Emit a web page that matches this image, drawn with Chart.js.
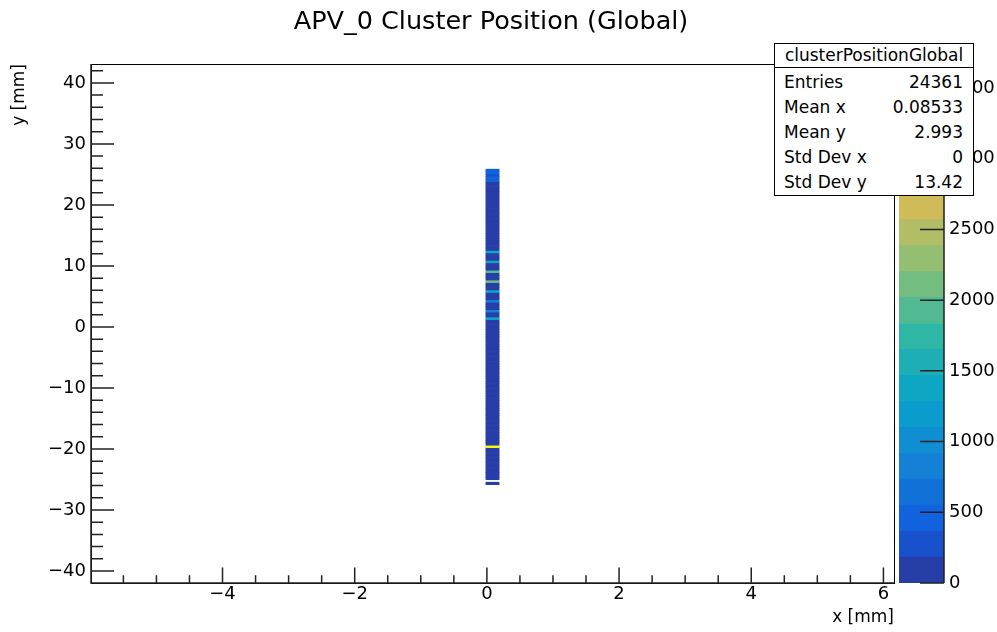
<!DOCTYPE html>
<html>
<head>
<meta charset="utf-8">
<script src="https://cdn.jsdelivr.net/npm/chart.js@4.4.1/dist/chart.umd.min.js"></script>
<style>
  html, body { margin: 0; padding: 0; background: #fff; }
  #wrap { position: relative; width: 997px; height: 632px; overflow: hidden; font-family: "DejaVu Sans", sans-serif; color: #000; }
  #plot { position: absolute; left: 0; top: 0; }
  #palette { position: absolute; left: 880px; top: 0; }
  #title { position: absolute; left: 0; width: 982px; top: 4px; text-align: center; font-size: 25.5px; line-height: 32px; }
  #stats { position: absolute; left: 774px; top: 43px; width: 200px; height: 153px; box-sizing: border-box; border: 1px solid #000; background: #fff; font-size: 17px; }
  #stats .hdr { position: absolute; left: 0; right: 0; top: 0; height: 23px; line-height: 23px; text-align: center; border-bottom: 1px solid #000; }
  #stats .row { position: absolute; left: 9px; right: 10px; height: 24px; line-height: 24px; }
  #stats .row .val { position: absolute; right: 0; top: 0; }
</style>
</head>
<body>
<div id="wrap">
  <canvas id="plot" width="997" height="632"></canvas>
  <canvas id="palette" width="117" height="632"></canvas>
  <div id="title">APV_0 Cluster Position (Global)</div>
  <div id="stats"><div class="hdr">clusterPositionGlobal</div></div>
</div>
<script>
// histogram binning (one x column, 128 strips along y)
const xBinEdges = [-0.015, 0.185];
const yFirstEdge = -25.85;
const yPitch = 0.404;

// counts per strip, bottom strip first
const stripCounts = [
  88, 0, 74, 69, 81, 63, 77, 58, 72, 66, 80, 61, 70, 75, 64, 3670,
  71, 62, 79, 57, 68, 73, 60, 76, 65, 59, 82, 67, 70, 63, 78, 61,
  66, 74, 58, 69, 80, 62, 71, 64, 77, 59, 68, 72, 61, 75, 66, 70,
  63, 79, 60, 67, 73, 65, 58, 76, 69, 62, 81, 64, 70, 57, 74, 68,
  71, 63, 78, 1350, 66, 72, 900, 64, 75, 69, 800, 61, 73, 67, 1400, 70,
  65, 77, 2150, 62, 74, 68, 1900, 71, 63, 79, 1300, 66, 72, 60, 1300, 75,
  67, 70, 62, 78, 64, 73, 69, 59, 76, 65, 71, 80, 63, 68, 74, 61,
  77, 66, 70, 62, 75, 69, 64, 81, 67, 72, 60, 390, 410, 300, 400, 420
];

const xRange = [-5.99, 6.16];
const yRange = [-41.97, 43.1];
const xTicks = [-4, -2, 0, 2, 4, 6];
const yTicks = [-40, -30, -20, -10, 0, 10, 20, 30, 40];
const xMinorStep = 0.5;
const yMinorStep = 2;

// colour axis
const zMax = 3670;
const zTicks = [0, 500, 1000, 1500, 2000, 2500, 3000, 3500];
const nContours = 20;

// stats box
const statsLabels = ['Entries', 'Mean x', 'Mean y', 'Std Dev x', 'Std Dev y'];
const statsValues = ['24361', '0.08533', '2.993', '0', '13.42'];

// ROOT kBird palette
const birdR = [0.2082, 0.0592, 0.0780, 0.0232, 0.1802, 0.5301, 0.8186, 0.9956, 0.9764];
const birdG = [0.1664, 0.3599, 0.5041, 0.6419, 0.7178, 0.7492, 0.7328, 0.7862, 0.9832];
const birdB = [0.5293, 0.8684, 0.8385, 0.7914, 0.6425, 0.4662, 0.3499, 0.1968, 0.0539];

function birdColor(t) {
    const p = Math.min(t, 1) * 8;
    const i = Math.min(Math.floor(p), 7);
    const f = p - i;
    const mix = arr => Math.round(255 * (arr[i] + (arr[i + 1] - arr[i]) * f));
    return 'rgb(' + mix(birdR) + ',' + mix(birdG) + ',' + mix(birdB) + ')';
}

const bandColors = [];
for (let i = 0; i < nContours; i++) {
    bandColors.push(birdColor(Math.floor((i + 0.99) * 255 / nContours) / 255));
}

function colorFor(v) {
    return bandColors[Math.min(nContours - 1, Math.floor(v / (zMax / nContours)))];
}

const minusSign = v => String(v).replace('-', '\u2212');
const fontTicks = { family: 'DejaVu Sans', size: 18 };

// stats rows
const stats = document.getElementById('stats');
statsLabels.forEach((lab, i) => {
    const row = document.createElement('div');
    row.className = 'row';
    row.style.top = (26 + 25 * i) + 'px';
    row.innerHTML = '<span>' + lab + '</span><span class="val">' + statsValues[i] + '</span>';
    stats.appendChild(row);
});

// frame + inward ticks, drawn ROOT style
const rootAxes = {
    id: 'rootAxes',
    afterDraw(chart) {
        const { ctx, chartArea: a } = chart;
        const xs = chart.scales.x, ys = chart.scales.y;
        ctx.save();
        ctx.strokeStyle = '#000';
        ctx.lineWidth = 1;
        ctx.strokeRect(a.left + 0.5, a.top + 0.5, a.right - a.left, a.bottom - a.top);

        ctx.strokeStyle = '#222';
        ctx.lineWidth = 1.5;
        ctx.beginPath();
        ctx.moveTo(a.left, a.top);
        ctx.lineTo(a.left, a.bottom);
        ctx.lineTo(a.right, a.bottom);
        for (let k = Math.ceil(xs.min / xMinorStep); k * xMinorStep <= xs.max; k++) {
            const v = k * xMinorStep;
            const px = xs.getPixelForValue(v);
            const major = xTicks.some(t => Math.abs(t - v) < 1e-6);
            ctx.moveTo(px, a.bottom);
            ctx.lineTo(px, a.bottom - (major ? 15.5 : 7.8));
        }
        for (let k = Math.ceil(ys.min / yMinorStep); k * yMinorStep <= ys.max; k++) {
            const v = k * yMinorStep;
            const py = ys.getPixelForValue(v);
            const major = yTicks.some(t => Math.abs(t - v) < 1e-6);
            ctx.moveTo(a.left, py);
            ctx.lineTo(a.left + (major ? 23 : 12), py);
        }
        ctx.stroke();
        ctx.restore();
    }
};

const cells = [];
stripCounts.forEach((v, i) => {
    if (v > 0) cells.push({ y: yFirstEdge + (i + 0.5) * yPitch, x: [xBinEdges[0], xBinEdges[1]], v: v });
});

new Chart(document.getElementById('plot'), {
    type: 'bar',
    data: {
        datasets: [{
            data: cells,
            backgroundColor: ctx => colorFor(ctx.raw ? ctx.raw.v : 0),
            borderWidth: 0,
            categoryPercentage: 1,
            barPercentage: 1
        }]
    },
    options: {
        indexAxis: 'y',
        responsive: false,
        animation: false,
        layout: { padding: { left: 0, right: 103, top: 64, bottom: 0 } },
        plugins: { legend: { display: false }, tooltip: { enabled: false } },
        scales: {
            x: {
                type: 'linear',
                position: 'bottom',
                min: xRange[0],
                max: xRange[1],
                offset: false,
                grid: { display: false, drawTicks: false },
                border: { display: false },
                afterBuildTicks: s => { s.ticks = xTicks.map(v => ({ value: v })); },
                afterFit: s => { s.height = 49; },
                ticks: { color: '#000', font: fontTicks, padding: 1, maxRotation: 0, autoSkip: false, callback: minusSign },
                title: { display: true, text: 'x [mm]', align: 'end', color: '#000', font: { family: 'DejaVu Sans', size: 17 }, padding: { top: 0, bottom: 4 } }
            },
            y: {
                type: 'linear',
                position: 'left',
                min: yRange[0],
                max: yRange[1],
                offset: false,
                grid: { display: false, drawTicks: false, offset: false },
                border: { display: false },
                afterBuildTicks: s => { s.ticks = yTicks.map(v => ({ value: v })); },
                afterFit: s => { s.width = 91; },
                ticks: { color: '#000', font: fontTicks, padding: 5, autoSkip: false, callback: minusSign },
                title: { display: true, text: 'y [mm]', align: 'end', color: '#000', font: { family: 'DejaVu Sans', size: 17 }, padding: { top: 9, bottom: 0 } }
            }
        }
    },
    plugins: [rootAxes]
});

// colour scale
const paletteTicks = {
    id: 'paletteTicks',
    afterDraw(chart) {
        const { ctx, chartArea: a } = chart;
        const zs = chart.scales.y;
        ctx.save();
        ctx.strokeStyle = '#222';
        ctx.lineWidth = 1.5;
        ctx.beginPath();
        ctx.moveTo(a.right, a.top);
        ctx.lineTo(a.right, a.bottom);
        zTicks.forEach(v => {
            const py = zs.getPixelForValue(v);
            ctx.moveTo(a.right - 24, py);
            ctx.lineTo(a.right, py);
        });
        ctx.stroke();
        ctx.restore();
    }
};

new Chart(document.getElementById('palette'), {
    type: 'bar',
    data: {
        labels: ['z'],
        datasets: bandColors.map(c => ({
            data: [zMax / nContours],
            backgroundColor: c,
            borderWidth: 0,
            categoryPercentage: 1,
            barPercentage: 1
        }))
    },
    options: {
        responsive: false,
        animation: false,
        layout: { padding: { left: 19, right: 0, top: 64, bottom: 49 } },
        plugins: { legend: { display: false }, tooltip: { enabled: false } },
        scales: {
            x: { stacked: true, display: false },
            y: {
                stacked: true,
                position: 'right',
                min: 0,
                max: zMax,
                grid: { display: false, drawTicks: false },
                border: { display: false },
                afterBuildTicks: s => { s.ticks = zTicks.map(v => ({ value: v })); },
                afterFit: s => { s.width = 53; },
                ticks: { color: '#000', font: fontTicks, padding: 5, autoSkip: false, callback: v => String(v) }
            }
        }
    },
    plugins: [paletteTicks]
});
</script>
</body>
</html>
